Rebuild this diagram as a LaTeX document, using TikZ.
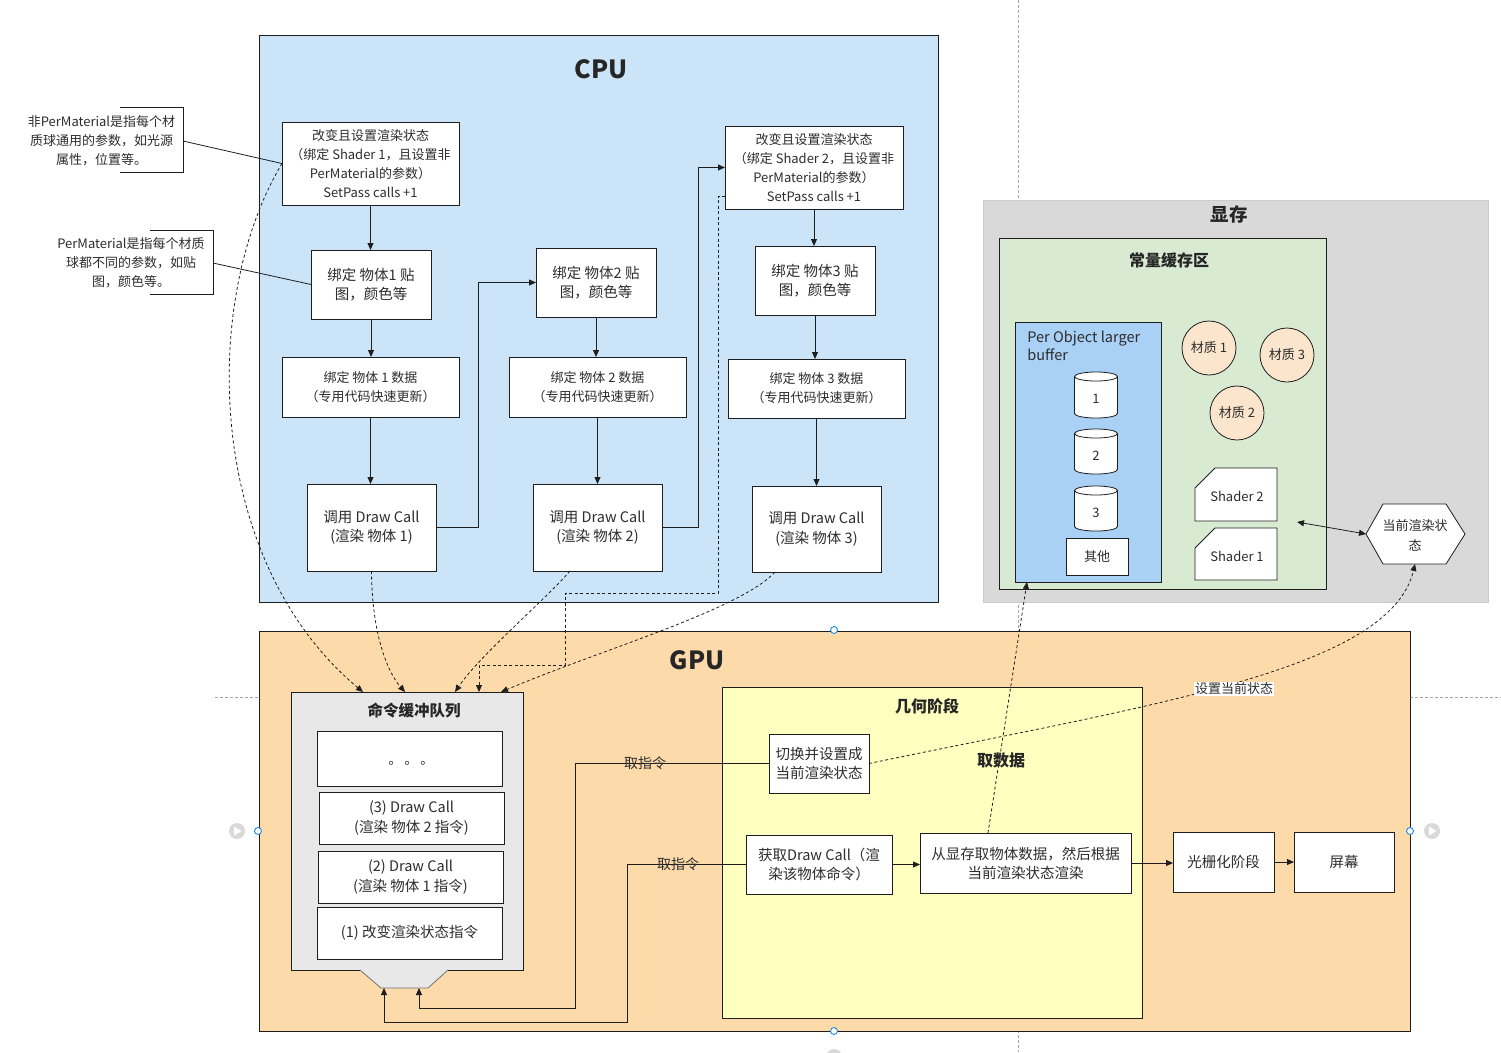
\documentclass[tikz,border=0pt]{standalone}
\usepackage{fontspec}
\setmainfont{Noto Sans CJK SC}
\usetikzlibrary{arrows.meta,calc}
\definecolor{cpubg}{RGB}{204,228,247}
\definecolor{gpubg}{RGB}{252,218,170}
\definecolor{geobg}{RGB}{255,255,192}
\definecolor{vrambg}{RGB}{217,217,217}
\definecolor{cbbg}{RGB}{217,234,211}
\definecolor{pobg}{RGB}{169,208,245}
\definecolor{qbg}{RGB}{232,232,232}
\definecolor{matbg}{RGB}{252,229,205}
\definecolor{linec}{RGB}{30,30,30}
\definecolor{txt}{RGB}{45,45,45}
\definecolor{handle}{RGB}{30,136,229}
\newcommand{\fsz}[2]{\fontsize{#1}{#2}\selectfont}
\newcommand{\cylinderat}[4]{%
  \draw[line width=0.8pt, draw=linec, fill=white] (#1-21.5,#2+4.5) -- (#1-21.5,#3-4.5) arc[start angle=180,end angle=0,x radius=21.5,y radius=4.5] -- (#1+21.5,#2+4.5) arc[start angle=0,end angle=-180,x radius=21.5,y radius=4.5] -- cycle;
  \draw[line width=0.8pt, draw=linec] (#1-21.5,#2+4.5) arc[start angle=180,end angle=0,x radius=21.5,y radius=4.5];
  \node[font=\fsz{13}{15}, text=txt] (cyl#4) at (#1,{(#2+#3)/2+4}) {#4};}
\begin{document}
\begin{tikzpicture}[x=1pt,y=-1pt,line width=0.8pt,
  box/.style={draw=linec, fill=white, align=center, inner sep=0pt, outer sep=0pt, text=txt},
  arr/.style={draw=linec, -{Triangle[length=7pt,width=6pt]}},
  darr/.style={arr, dash pattern=on 3pt off 2.5pt},
  ttl/.style={font=\bfseries\fsz{16}{19}, text=black!85},
  guide/.style={draw=black!35, dash pattern=on 3pt off 2pt, line width=0.6pt},
  fA/.style={font=\fsz{13}{19}},
  fB/.style={font=\fsz{14.5}{19.5}},
  fC/.style={font=\fsz{13}{19}},
  fG/.style={font=\fsz{14.5}{19}}]
\fill[white] (0,0) rectangle (1501,1052);
\useasboundingbox (0,0) rectangle (1501,1052);
% editor guides
\draw[guide] (1018,0) -- (1018,1052);
\draw[guide] (215,697) -- (1501,697);

% ===== CPU =====
\draw[draw=linec, fill=cpubg] (259,35) rectangle (938,602);
\node[font=\bfseries\fsz{25}{30}, text=black!85] (cpu) at (601,69) {CPU};

\node[box, fA, minimum width=177, minimum height=83] (A1) at (370.5,163.5) {改变且设置渲染状态\\（绑定 Shader 1，且设置非\\PerMaterial的参数）\\SetPass calls +1};
\node[box, fB, minimum width=120, minimum height=69] (B1) at (371,284.5) {绑定 物体1 贴\\图，颜色等};
\node[box, fC, minimum width=177, minimum height=60] (C1) at (370.5,387) {绑定 物体 1 数据\\（专用代码快速更新）};
\node[box, fB, minimum width=129, minimum height=87] (D1) at (371.5,527.5) {调用 Draw Call\\(渲染 物体 1)};

\node[box, fB, minimum width=120, minimum height=69] (B2) at (596,282.5) {绑定 物体2 贴\\图，颜色等};
\node[box, fC, minimum width=177, minimum height=60] (C2) at (597.5,387) {绑定 物体 2 数据\\（专用代码快速更新）};
\node[box, fB, minimum width=129, minimum height=87] (D2) at (597.5,527.5) {调用 Draw Call\\(渲染 物体 2)};

\node[box, fA, minimum width=178, minimum height=83] (A3) at (814,167.5) {改变且设置渲染状态\\（绑定 Shader 2，且设置非\\PerMaterial的参数）\\SetPass calls +1};
\node[box, fB, minimum width=120, minimum height=69] (B3) at (815,280.5) {绑定 物体3 贴\\图，颜色等};
\node[box, fC, minimum width=177, minimum height=59] (C3) at (816.5,388.5) {绑定 物体 3 数据\\（专用代码快速更新）};
\node[box, fB, minimum width=129, minimum height=86] (D3) at (816.5,529) {调用 Draw Call\\(渲染 物体 3)};

% notes
\node[fA, align=center, text=txt, inner sep=0pt] (N1) at (101.5,141) {非PerMaterial是指每个材\\质球通用的参数，如光源\\属性，位置等。};
\draw[linec] (120,107) -- (183,107) -- (183,172) -- (120,172);
\coordinate (N1e) at (183,141);
\node[fA, align=center, text=txt, inner sep=0pt] (N2) at (131,263) {PerMaterial是指每个材质\\球都不同的参数，如贴\\图，颜色等。};
\draw[linec] (150,230) -- (213,230) -- (213,294) -- (150,294);
\coordinate (N2e) at (213,263);

% ===== VRAM =====
\draw[draw=black!20, fill=vrambg] (983,200) rectangle (1488,602);
\node[font=\bfseries\fsz{18.5}{22}, text=black!85] (vram) at (1229,214) {显存};
\draw[draw=linec, fill=cbbg] (999,238) rectangle (1326,589);
\node[ttl] (cbt) at (1169,260) {常量缓存区};
\node[draw=linec, fill=pobg, minimum width=146, minimum height=260, inner sep=0pt, outer sep=0pt] (PO) at (1088,452) {};
\node[anchor=north west, align=left, font=\fsz{14.5}{18}, text=txt, inner sep=0pt] (pot) at (1027,331) {Per Object larger\\buffer};
\cylinderat{1096}{372}{418}{1}
\cylinderat{1096}{429}{474}{2}
\cylinderat{1096}{486}{531}{3}
\node[box, font=\fsz{13}{15}, minimum width=62, minimum height=37] (other) at (1097,556.5) {其他};
\node[circle, draw=linec, fill=matbg, minimum size=54, inner sep=0pt, font=\fsz{13}{15}, text=txt] (M1) at (1209,348) {材质 1};
\node[circle, draw=linec, fill=matbg, minimum size=54, inner sep=0pt, font=\fsz{13}{15}, text=txt] (M3) at (1287,355) {材质 3};
\node[circle, draw=linec, fill=matbg, minimum size=54, inner sep=0pt, font=\fsz{13}{15}, text=txt] (M2) at (1237,413) {材质 2};
\draw[draw=linec, fill=white] (1215,468) -- (1277,468) -- (1277,521) -- (1195,521) -- (1195,488) -- cycle;
\node[font=\fsz{13}{15}, text=txt] (S2) at (1237,496) {Shader 2};
\draw[draw=linec, fill=white] (1215,528) -- (1277,528) -- (1277,580) -- (1195,580) -- (1195,548) -- cycle;
\node[font=\fsz{13}{15}, text=txt] (S1) at (1237,556) {Shader 1};
\draw[draw=linec, fill=white] (1366,534) -- (1383,504) -- (1446,504) -- (1465,534) -- (1446,564) -- (1383,564) -- cycle;
\node[align=center, font=\fsz{13}{20}, text=txt] (H) at (1415,535) {当前渲染状\\态};
\coordinate (hexW) at (1366,534);
\coordinate (hexS) at (1415,564);
\coordinate (shp) at (1297,522);

% ===== GPU =====
\draw[draw=linec, fill=gpubg] (259,631) rectangle (1410,1031);
\node[font=\bfseries\fsz{25}{30}, text=black!85] (gpu) at (697,660) {GPU};
\draw[draw=linec, fill=geobg] (722,687) rectangle (1142,1018);
\node[ttl] (geot) at (927,706) {几何阶段};

% queue
\node[draw=linec, fill=qbg, minimum width=232, minimum height=278, inner sep=0pt, outer sep=0pt] (Q) at (407,831) {};
\node[font=\bfseries\fsz{15.5}{18}, text=black!85] (Qt) at (414,711) {命令缓冲队列};
\node[box, minimum width=185, minimum height=55] (Q0) at (409.5,758.5) {};
\node[font=\fsz{13}{15}, text=txt, inner sep=0pt] (Q0t) at (411,763) {。 。 。};
\node[box, fB, minimum width=185, minimum height=52] (Q3) at (411.5,818) {(3) Draw Call\\(渲染 物体 2 指令)};
\node[box, fB, minimum width=185, minimum height=52] (Q2) at (410.5,877) {(2) Draw Call\\(渲染 物体 1 指令)};
\node[box, fB, minimum width=185, minimum height=52] (Q1) at (409.5,933) {(1) 改变渲染状态指令};
\draw[draw=black!55, fill=qbg] (360,970) -- (381,988) -- (428,988) -- (448,970);
\coordinate (trap1) at (419,988);
\coordinate (trap2) at (384,988);

% geometry stage boxes
\node[box, fG, minimum width=100, minimum height=59] (SW) at (819,763.5) {切换并设置成\\当前渲染状态};
\node[box, fG, minimum width=146, minimum height=59] (GD) at (819,864.5) {获取Draw Call（渲\\染该物体命令）};
\node[box, fG, minimum width=211, minimum height=60] (GR) at (1025.5,863) {从显存取物体数据，然后根据\\当前渲染状态渲染};
\node[box, fG, minimum width=101, minimum height=60] (RA) at (1223.5,862) {光栅化阶段};
\node[box, fG, minimum width=100, minimum height=60] (SC) at (1344,862) {屏幕};

% ===== connectors =====
\draw[linec] (N1e) -- (A1.west);
\draw[linec] (N2e) -- (B1.west);
\draw[arr] (A1.south) -- (A1.south |- B1.north);
\draw[arr] (B1.south) -- (B1.south |- C1.north);
\draw[arr] (C1.south) -- (C1.south |- D1.north);
\draw[arr] (D1.east) -- ++(42,0) |- (B2.west);
\draw[arr] (B2.south) -- (B2.south |- C2.north);
\draw[arr] (C2.south) -- (C2.south |- D2.north);
\draw[arr] (D2.east) -- ++(36,0) |- (A3.west);
\draw[arr] (A3.south) -- (A3.south |- B3.north);
\draw[arr] (B3.south) -- (B3.south |- C3.north);
\draw[arr] (C3.south) -- (C3.south |- D3.north);

\coordinate (q1) at ($(Q.north)+(-44,0)$);
\coordinate (q2) at ($(Q.north)+(-2,0)$);
\coordinate (q3) at ($(Q.north)+(48,0)$);
\coordinate (q4) at ($(Q.north)+(72,0)$);
\coordinate (q5) at ($(Q.north)+(94,0)$);
\draw[darr] (A1.west) .. controls (200,300) and (205,560) .. (q1);
\draw[darr] (D1.south) .. controls (372,640) and (390,675) .. (q2);
\draw[darr] ($(D2.south)+(-27.5,0)$) .. controls (545,600) and (480,655) .. (q3);
\draw[darr] ($(A3.west)+(0,28.5)$) -- ++(-7,0) |- (565,593) |- (479,665) -- (q4);
\draw[darr] ($(D3.south)+(-41.5,0)$) .. controls (740,610) and (600,650) .. (q5);

\draw[arr] (SW.west) -| (575,1008) -| (trap1);
\draw[arr] (GD.west) -| (627,1022) -| (trap2);
\node[font=\fsz{14}{16}, text=txt, inner sep=0pt] (lq1) at (645,763) {取指令};
\node[font=\fsz{14}{16}, text=txt, inner sep=0pt] (lq2) at (678,864) {取指令};
\draw[arr] (GD.east) -- (GR.west |- GD.east);
\draw[arr] (GR.east) -- (RA.west |- GR.east);
\draw[arr] (RA.east) -- (SC.west);
\draw[darr] ($(GR.north)+(-37.5,0)$) -- ($(PO.south)+(-61,0)$);
\node[font=\bfseries\fsz{16}{19}, text=black!85] (lfd) at (1001,760) {取数据};
\draw[darr] (SW.east) .. controls (1150,705) and (1390,670) .. (hexS);
\node[font=\fsz{13}{15}, text=txt, fill=white, inner sep=1pt] (lst) at (1234,689) {设置当前状态};
\draw[linec, {Triangle[length=7pt,width=6pt]}-{Triangle[length=7pt,width=6pt]}] (shp) -- (hexW);

% editor handles
\foreach \a/\b in {834/630, 258/831, 1410/831, 834/1031}
  \draw[draw=handle, fill=white, line width=0.9pt] (\a,\b) circle[radius=3.5pt];
\foreach \a in {237,1432}{
  \fill[black!15] (\a,831) circle[radius=8pt];
  \fill[white] (\a-3,826.5) -- (\a+4.5,831) -- (\a-3,835.5) -- cycle;}
\fill[black!15] (834,1057) circle[radius=8pt];
\end{tikzpicture}
\end{document}
